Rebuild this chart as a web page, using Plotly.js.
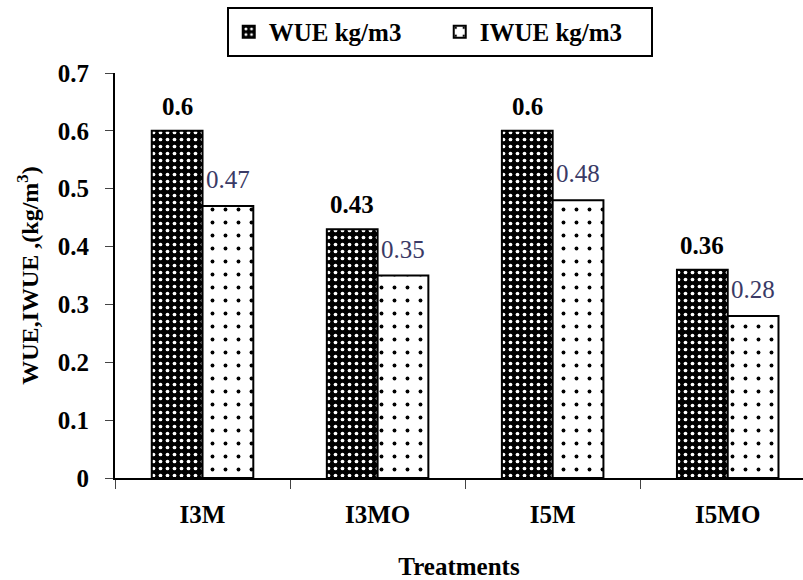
<!DOCTYPE html>
<html>
<head>
<meta charset="utf-8">
<script src="https://cdn.plot.ly/plotly-3.0.1.min.js"></script>
<style>html,body{margin:0;padding:0;background:#fff;}#chart{width:803px;height:580px;}</style>
</head>
<body>
<div id="chart"></div>
<script>
var categories = ["I3M", "I3MO", "I5M", "I5MO"];
var wueValues = [0.6, 0.43, 0.6, 0.36];
var iwueValues = [0.47, 0.35, 0.48, 0.28];
var wueLabels = ["0.6", "0.43", "0.6", "0.36"];
var iwueLabels = ["0.47", "0.35", "0.48", "0.28"];
var seriesNames = ["WUE kg/m3", "IWUE kg/m3"];
var yTickVals = [0, 0.1, 0.2, 0.3, 0.4, 0.5, 0.6, 0.7];
var yTickText = ["0", "0.1", "0.2", "0.3", "0.4", "0.5", "0.6", "0.7"];

var FONT = "Liberation Serif, Times New Roman, serif";
var BAR_W = 0.29;

var traces = [
  {
    type: "bar", name: seriesNames[0], x: categories, y: wueValues,
    width: BAR_W,
    marker: {
      color: "black",
      line: {color: "black", width: 2},
      pattern: {shape: ".", fgcolor: "white", bgcolor: "black", size: 7, solidity: 0.22, fillmode: "replace"}
    },
    hoverinfo: "none"
  },
  {
    type: "bar", name: seriesNames[1], x: categories, y: iwueValues,
    width: BAR_W,
    marker: {
      color: "white",
      line: {color: "black", width: 2},
      pattern: {shape: ".", fgcolor: "black", bgcolor: "white", size: 13, solidity: 0.07, fillmode: "replace"}
    },
    hoverinfo: "none"
  }
];

var annotations = [];
categories.forEach(function (c, i) {
  annotations.push({
    x: i - BAR_W / 2, y: wueValues[i], xref: "x", yref: "y",
    text: wueLabels[i], showarrow: false, yanchor: "bottom", yshift: 9,
    font: {family: FONT, size: 25, color: "black", weight: "bold"}
  });
  annotations.push({
    x: i + BAR_W / 2, y: iwueValues[i], xref: "x", yref: "y",
    text: iwueLabels[i], showarrow: false, yanchor: "bottom", yshift: 11,
    font: {family: FONT, size: 25, color: "#3a3a66"}
  });
});

var layout = {
  width: 803, height: 580,
  margin: {l: 115, r: 0, t: 73, b: 102},
  paper_bgcolor: "white", plot_bgcolor: "white",
  barmode: "group", bargap: 0.42, bargroupgap: 0,
  font: {family: FONT, size: 25, color: "black"},
  showlegend: true,
  legend: {
    orientation: "h", x: 0.472, xanchor: "center", y: 1.163, yanchor: "top",
    bordercolor: "black", borderwidth: 2, bgcolor: "white",
    font: {family: FONT, size: 25, color: "black", weight: "bold"},
    entrywidth: 166, entrywidthmode: "pixels",
    traceorder: "normal"
  },
  xaxis: {
    type: "category", range: [-0.5, 3.43], fixedrange: true,
    showline: true, linecolor: "black", linewidth: 2,
    ticks: "outside", ticklen: 9, tickcolor: "#444", tickwidth: 1,
    tickson: "boundaries", ticklabelstandoff: 13,
    tickfont: {family: FONT, size: 25, color: "black", weight: "bold"},
    showgrid: false, zeroline: false,
    title: {text: "Treatments", standoff: 32, font: {family: FONT, size: 25, color: "black", weight: "bold"}}
  },
  yaxis: {
    range: [0, 0.7], fixedrange: true,
    tickvals: yTickVals, ticktext: yTickText,
    showline: true, linecolor: "black", linewidth: 2,
    ticks: "outside", ticklen: 8, tickcolor: "#444", tickwidth: 1,
    ticklabelstandoff: 11,
    tickfont: {family: FONT, size: 25, color: "black", weight: "bold"},
    showgrid: false, zeroline: false,
    title: {text: "WUE,IWUE ,(kg/m<sup>3</sup>)", standoff: 12, font: {family: FONT, size: 24, color: "black", weight: "bold"}}
  },
  annotations: annotations
};

Plotly.newPlot("chart", traces, layout, {staticPlot: true, displayModeBar: false});
</script>
</body>
</html>
